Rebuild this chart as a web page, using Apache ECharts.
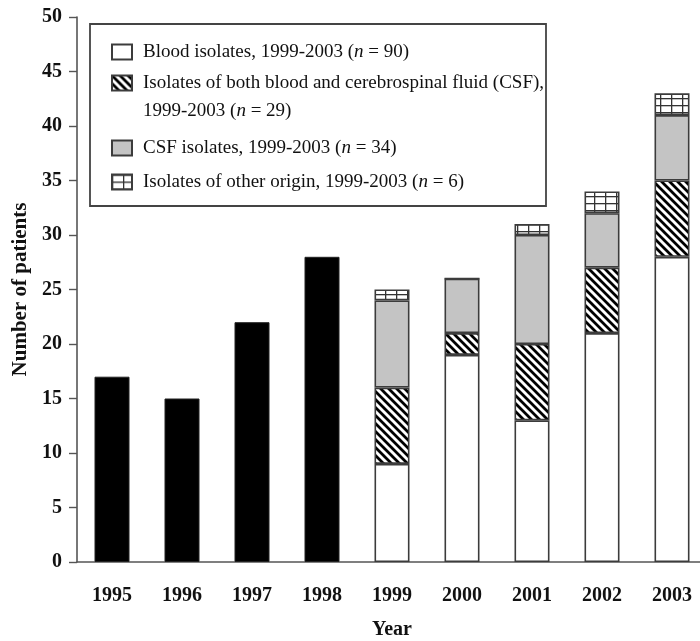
<!DOCTYPE html>
<html>
<head>
<meta charset="utf-8">
<script src="https://cdn.jsdelivr.net/npm/echarts@6/dist/echarts.min.js"></script>
<style>
  html, body { margin: 0; padding: 0; background: #fff; }
  #chart { width: 700px; height: 641px; }
</style>
</head>
<body>
<div id="chart"></div>
<script>
// Patients per year; 1995-1998 totals only, 1999-2003 split by isolate origin
const years = ['1995', '1996', '1997', '1998', '1999', '2000', '2001', '2002', '2003'];
const allIsolates = [17, 15, 22, 28, '-', '-', '-', '-', '-'];
const bloodIsolates = ['-', '-', '-', '-', 9, 19, 13, 21, 28];
const bloodAndCsfIsolates = ['-', '-', '-', '-', 7, 2, 7, 6, 7];
const csfIsolates = ['-', '-', '-', '-', 8, 5, 10, 5, 6];
const otherIsolates = ['-', '-', '-', '-', 1, 0, 1, 2, 2];

const seriesNames = [
  'Blood isolates, 1999-2003 (n = 90)',
  'Isolates of both blood and cerebrospinal fluid (CSF), 1999-2003 (n = 29)',
  'CSF isolates, 1999-2003 (n = 34)',
  'Isolates of other origin, 1999-2003 (n = 6)'
];
const legendLabels = [
  'Blood isolates, 1999-2003 ({i|n} = 90)',
  'Isolates of both blood and cerebrospinal fluid (CSF),\n1999-2003 ({i|n} = 29)',
  'CSF isolates, 1999-2003 ({i|n} = 34)',
  'Isolates of other origin, 1999-2003 ({i|n} = 6)'
];

const SERIF = '"Liberation Serif", "Times New Roman", serif';
const EDGE = '#3c3c3c';

// diagonal hatch (\\\) fill
function hatchPattern() {
  const c = document.createElement('canvas');
  c.width = 8; c.height = 8;
  const g = c.getContext('2d');
  g.fillStyle = '#fff';
  g.fillRect(0, 0, 8, 8);
  g.strokeStyle = '#000';
  g.lineWidth = 2.8;
  g.beginPath();
  g.moveTo(-2, -2); g.lineTo(10, 10);
  g.moveTo(-10, -2); g.lineTo(2, 10);
  g.moveTo(6, -2); g.lineTo(18, 10);
  g.stroke();
  return c;
}
// small square grid fill
function gridPattern() {
  const w = 11, h = 7;
  const c = document.createElement('canvas');
  c.width = w; c.height = h;
  const g = c.getContext('2d');
  g.fillStyle = '#fff';
  g.fillRect(0, 0, w, h);
  g.fillStyle = '#333';
  g.fillRect(0, 0, w, 1.3);
  g.fillRect(0, 0, 1.3, h);
  return c;
}

const fills = [
  '#ffffff',
  { image: hatchPattern(), repeat: 'repeat' },
  '#c4c4c4',
  { image: gridPattern(), repeat: 'repeat' }
];
const stackData = [bloodIsolates, bloodAndCsfIsolates, csfIsolates, otherIsolates];

const richItalic = { i: { fontStyle: 'italic', fontFamily: SERIF, fontSize: 19, color: '#111' } };

function legendAt(idx, top, extra) {
  const base = {
    data: [seriesNames[idx]],
    left: 111,
    top: top,
    padding: 0,
    selectedMode: false,
    icon: 'rect',
    itemWidth: 20,
    itemHeight: 15,
    formatter: () => legendLabels[idx],
    textStyle: {
      fontFamily: SERIF,
      fontSize: 19,
      color: '#111',
      lineHeight: 22,
      padding: [0, 0, 0, 6],
      rich: richItalic
    }
  };
  if (extra) Object.assign(base.textStyle, extra);
  return base;
}

const series = [{
  name: 'All isolates',
  type: 'bar',
  stack: 'patients',
  barWidth: 35,
  data: allIsolates,
  itemStyle: { color: '#000', borderColor: '#222', borderWidth: 1 }
}];
stackData.forEach((d, i) => {
  series.push({
    name: seriesNames[i],
    type: 'bar',
    stack: 'patients',
    barWidth: 35,
    data: d,
    itemStyle: { color: fills[i], borderColor: EDGE, borderWidth: 1.6 }
  });
});

const chart = echarts.init(document.getElementById('chart'), null, { renderer: 'canvas' });
chart.setOption({
  animation: false,
  backgroundColor: '#fff',
  grid: { left: 77, top: 17, width: 630, height: 545, containLabel: false, outerBoundsMode: 'none' },
  xAxis: {
    type: 'category',
    data: years,
    name: 'Year',
    nameLocation: 'middle',
    nameGap: 58,
    nameTextStyle: { fontFamily: SERIF, fontWeight: 'bold', fontSize: 20, color: '#111' },
    axisLine: { lineStyle: { color: '#555', width: 1.6 } },
    axisTick: { show: false },
    axisLabel: { fontFamily: SERIF, fontWeight: 'bold', fontSize: 20, color: '#111', margin: 24 }
  },
  yAxis: {
    type: 'value',
    min: 0,
    max: 50,
    interval: 5,
    name: 'Number of patients',
    nameLocation: 'middle',
    nameGap: 44,
    nameTextStyle: { fontFamily: SERIF, fontWeight: 'bold', fontSize: 21, color: '#111' },
    axisLine: { show: true, lineStyle: { color: '#555', width: 1.6 } },
    axisTick: { show: true, length: 8, lineStyle: { color: '#555', width: 1.4 } },
    splitLine: { show: false },
    axisLabel: { fontFamily: SERIF, fontWeight: 'bold', fontSize: 20, color: '#111', margin: 15 }
  },
  graphic: [{
    type: 'rect',
    shape: { x: 90, y: 24, width: 456, height: 182 },
    style: { fill: '#fff', stroke: '#444', lineWidth: 1.8 },
    z: 3
  }],
  legend: [
    legendAt(0, 41),
    legendAt(1, 83 - 42, { lineHeight: 28, padding: [28, 0, 0, 6], rich: { i: Object.assign({}, richItalic.i, { lineHeight: 28 }) } }),
    legendAt(2, 137),
    legendAt(3, 171)
  ],
  series: series
});
</script>
</body>
</html>
